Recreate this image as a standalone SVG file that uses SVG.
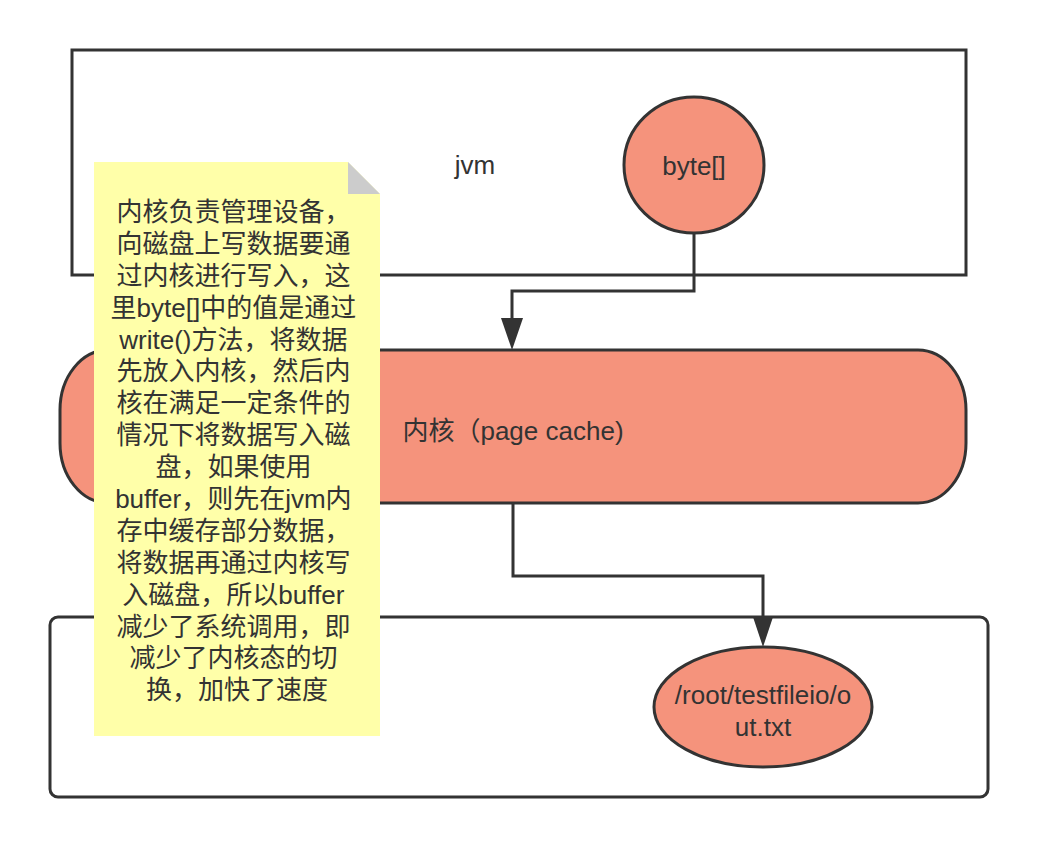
<svg xmlns="http://www.w3.org/2000/svg" width="1040" height="848" viewBox="0 0 1040 848">
  <style>
    .box { fill: #ffffff; stroke: #333333; stroke-width: 3; }
    .shape { fill: #F5937C; stroke: #333333; stroke-width: 3; }
    .edge { fill: none; stroke: #333333; stroke-width: 3; }
    .head { fill: #333333; stroke: none; }
    .t { font-family: "Liberation Sans", "Noto Sans CJK SC", sans-serif; font-size: 26px; fill: #333333; text-anchor: middle; }
  </style>
  <rect width="1040" height="848" fill="#ffffff"/>

  <g id="jvm">
    <rect class="box" x="72" y="50" width="894" height="225"/>
    <text class="t" x="475" y="174">jvm</text>
  </g>

  <g id="byte">
    <ellipse class="shape" cx="694" cy="165" rx="70" ry="68"/>
    <text class="t" x="694" y="175">byte[]</text>
  </g>

  <g id="disk">
    <rect class="box" x="50" y="617" width="938" height="180" rx="8" ry="8"/>
  </g>

  <g id="kernel">
    <path class="shape" d="M108,350 H918 A48,60 0 0 1 966,410 V443 A48,60 0 0 1 918,503 H108 A48,60 0 0 1 60,443 V410 A48,60 0 0 1 108,350 Z"/>
    <text class="t" x="513" y="440">内核（page cache)</text>
  </g>

  <g id="file">
    <ellipse class="shape" cx="763" cy="707" rx="109" ry="60"/>
    <text class="t" x="763" y="704">/root/testfileio/o</text>
    <text class="t" x="763" y="736">ut.txt</text>
  </g>

  <g id="connectors">
    <polyline class="edge" points="694,233 694,291 512,291 512,320"/>
    <polygon class="head" points="512,350 501,318 523,318"/>
    <polyline class="edge" points="513,503 513,576 763,576 763,620"/>
    <polygon class="head" points="763,647 753,617 773,617"/>
  </g>

  <g id="note">
    <path d="M94,162 H348 L380,194 V736 H94 Z" fill="#FFFFA9"/>
    <path d="M348,162 V194 H380 Z" fill="#CCCCCC"/>
    <text class="t">
      <tspan x="237" y="221">内核负责管理设备，</tspan>
      <tspan x="237" y="253">向磁盘上写数据要通</tspan>
      <tspan x="237" y="285">过内核进行写入，这</tspan>
      <tspan x="237" y="317">里byte[]中的值是通过</tspan>
      <tspan x="237" y="349">write()方法，将数据</tspan>
      <tspan x="237" y="380">先放入内核，然后内</tspan>
      <tspan x="237" y="412">核在满足一定条件的</tspan>
      <tspan x="237" y="444">情况下将数据写入磁</tspan>
      <tspan x="237" y="476">盘，如果使用</tspan>
      <tspan x="237" y="508">buffer，则先在jvm内</tspan>
      <tspan x="237" y="540">存中缓存部分数据，</tspan>
      <tspan x="237" y="572">将数据再通过内核写</tspan>
      <tspan x="237" y="604">入磁盘，所以buffer</tspan>
      <tspan x="237" y="636">减少了系统调用，即</tspan>
      <tspan x="237" y="667">减少了内核态的切</tspan>
      <tspan x="237" y="699">换，加快了速度</tspan>
    </text>
  </g>
</svg>
